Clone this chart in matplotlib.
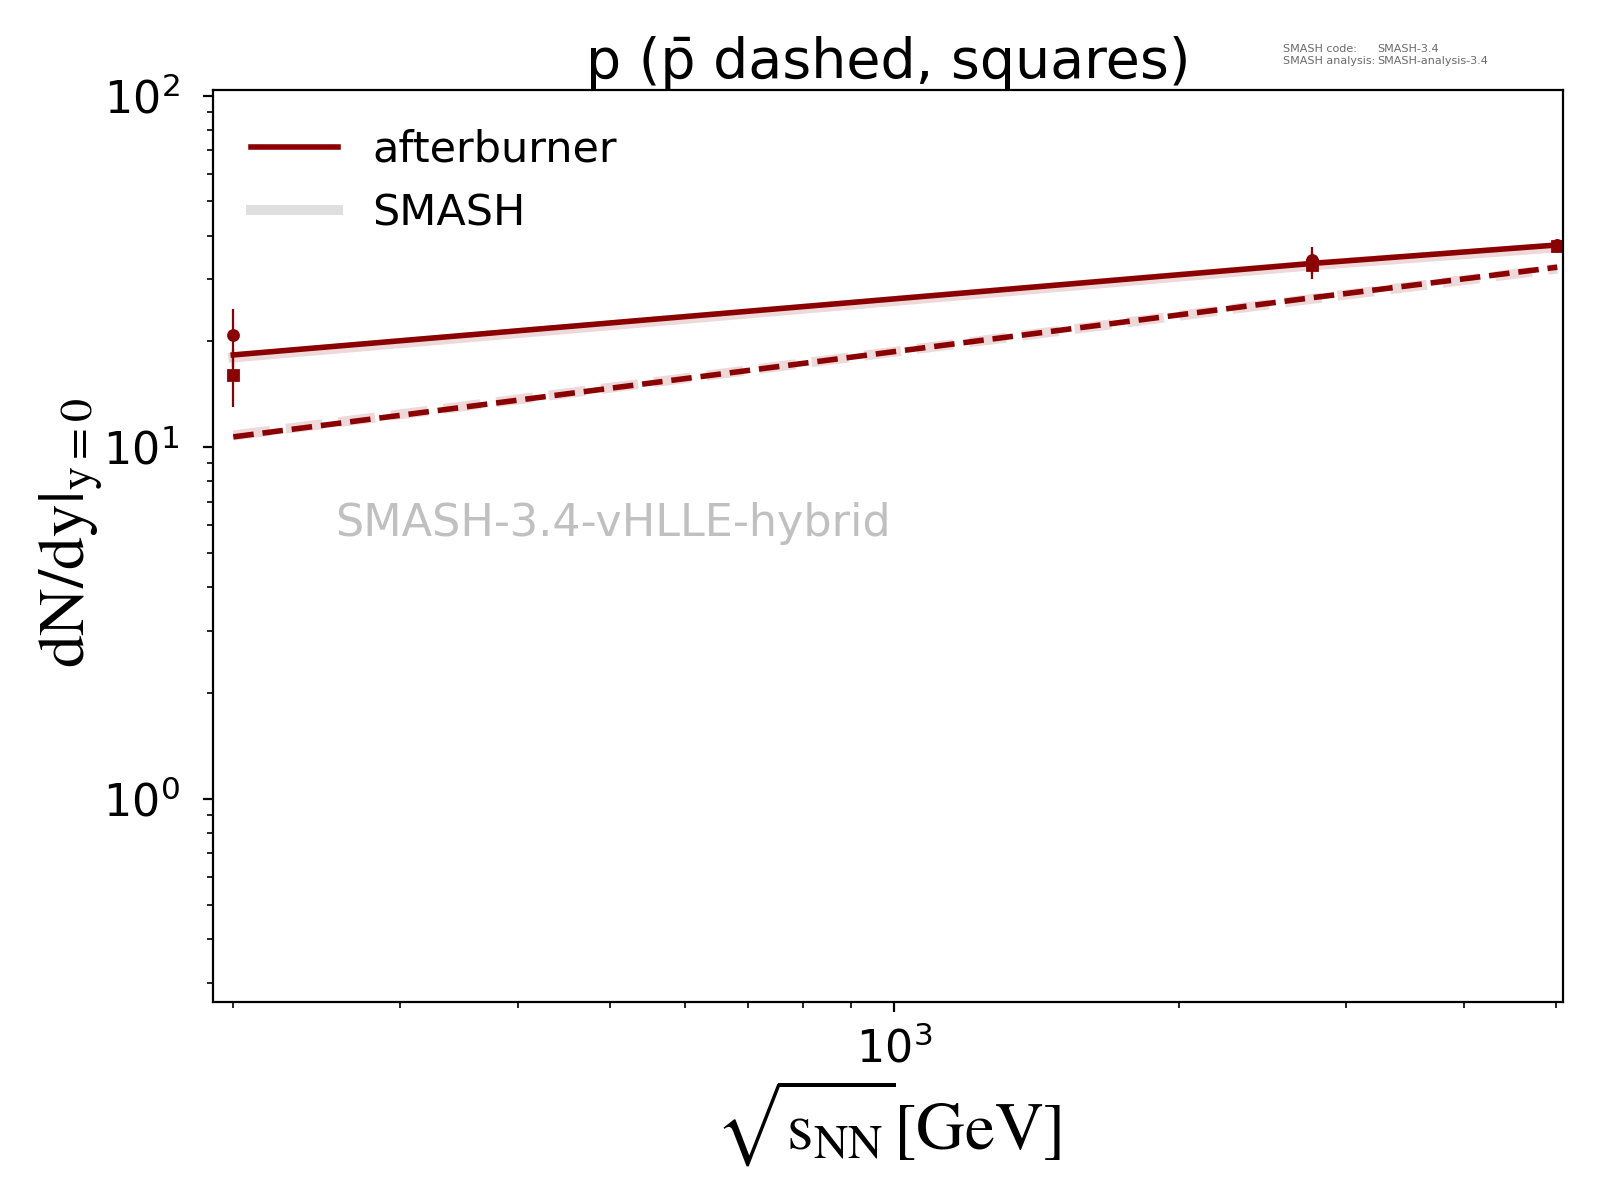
import matplotlib
matplotlib.use("Agg")
import matplotlib.pyplot as plt
from matplotlib.lines import Line2D

plt.rcParams['mathtext.fontset'] = 'stix'

# collision energies [GeV]
energy = [200, 2760, 5020]

# model curves (dN/dy at midrapidity)
p_afterburner = [18.3, 33.3, 37.6]
pbar_afterburner = [10.7, 26.6, 32.5]
p_smash = [18.0, 32.9, 37.0]
pbar_smash = [10.8, 26.4, 32.2]

# experimental points
exp_energy = [200, 2760, 5020]
p_exp = [20.8, 34.0, 37.5]
p_exp_err = [3.9, 3.0, 1.6]
pbar_exp = [16.0, 33.0, 37.3]
pbar_exp_err = [3.0, 3.0, 1.6]

color = 'darkred'

fig = plt.figure(figsize=(8, 6), dpi=200)
ax = fig.add_axes([0.1329, 0.1653, 0.8440, 0.7598])

# SMASH-only runs as faint thick bands
ax.plot(energy, p_smash, color=color, alpha=0.15, lw=3.6, ls='-')
ax.plot(energy, pbar_smash, color=color, alpha=0.15, lw=3.6, ls='--')

# full hybrid with afterburner
ax.plot(energy, p_afterburner, color=color, lw=2, ls='-')
ax.plot(energy, pbar_afterburner, color=color, lw=2, ls='--')

ax.errorbar(exp_energy, p_exp, yerr=p_exp_err, fmt='o', color=color,
            ms=3.6, elinewidth=0.8, capsize=0)
ax.errorbar(exp_energy, pbar_exp, yerr=pbar_exp_err, fmt='s', color=color,
            ms=3.8, elinewidth=0.8, capsize=0)

ax.set_xscale('log')
ax.set_yscale('log')
ax.set_xlim(190.2, 5091)
ax.set_ylim(0.265, 103.8)
ax.tick_params(labelsize=16)
ax.tick_params(axis='y', which='major', pad=8.5)
ax.tick_params(axis='x', which='major', pad=5.5)

ax.set_title('p (p\u0304 dashed, squares)', fontsize=20, pad=1)
ax.set_xlabel(r'$\mathrm{\sqrt{s_{NN}}[GeV]}$', fontsize=24.3, labelpad=2)
ax.set_ylabel(r'$\mathrm{dN/dy|_{y=0}}$', fontsize=23.7, labelpad=-1)
ax.yaxis.label.set_y(0.514)

ax.text(0.091, 0.511, 'SMASH-3.4-vHLLE-hybrid', transform=ax.transAxes,
        color='silver', fontsize=16, va='baseline')

handles = [Line2D([], [], color=color, lw=2, label='afterburner'),
           Line2D([], [], color='#dfdfdf', lw=3.6, label='SMASH')]
ax.legend(handles=handles, loc='upper left', frameon=False, fontsize=15.5)

# version stamp
fig.text(0.802, 0.954, 'SMASH code:\nSMASH analysis:', fontsize=4,
         color='dimgray', va='center', linespacing=1.2)
fig.text(0.861, 0.954, 'SMASH-3.4\nSMASH-analysis-3.4', fontsize=4,
         color='dimgray', va='center', linespacing=1.2)

fig.savefig('out.png', dpi=200)
